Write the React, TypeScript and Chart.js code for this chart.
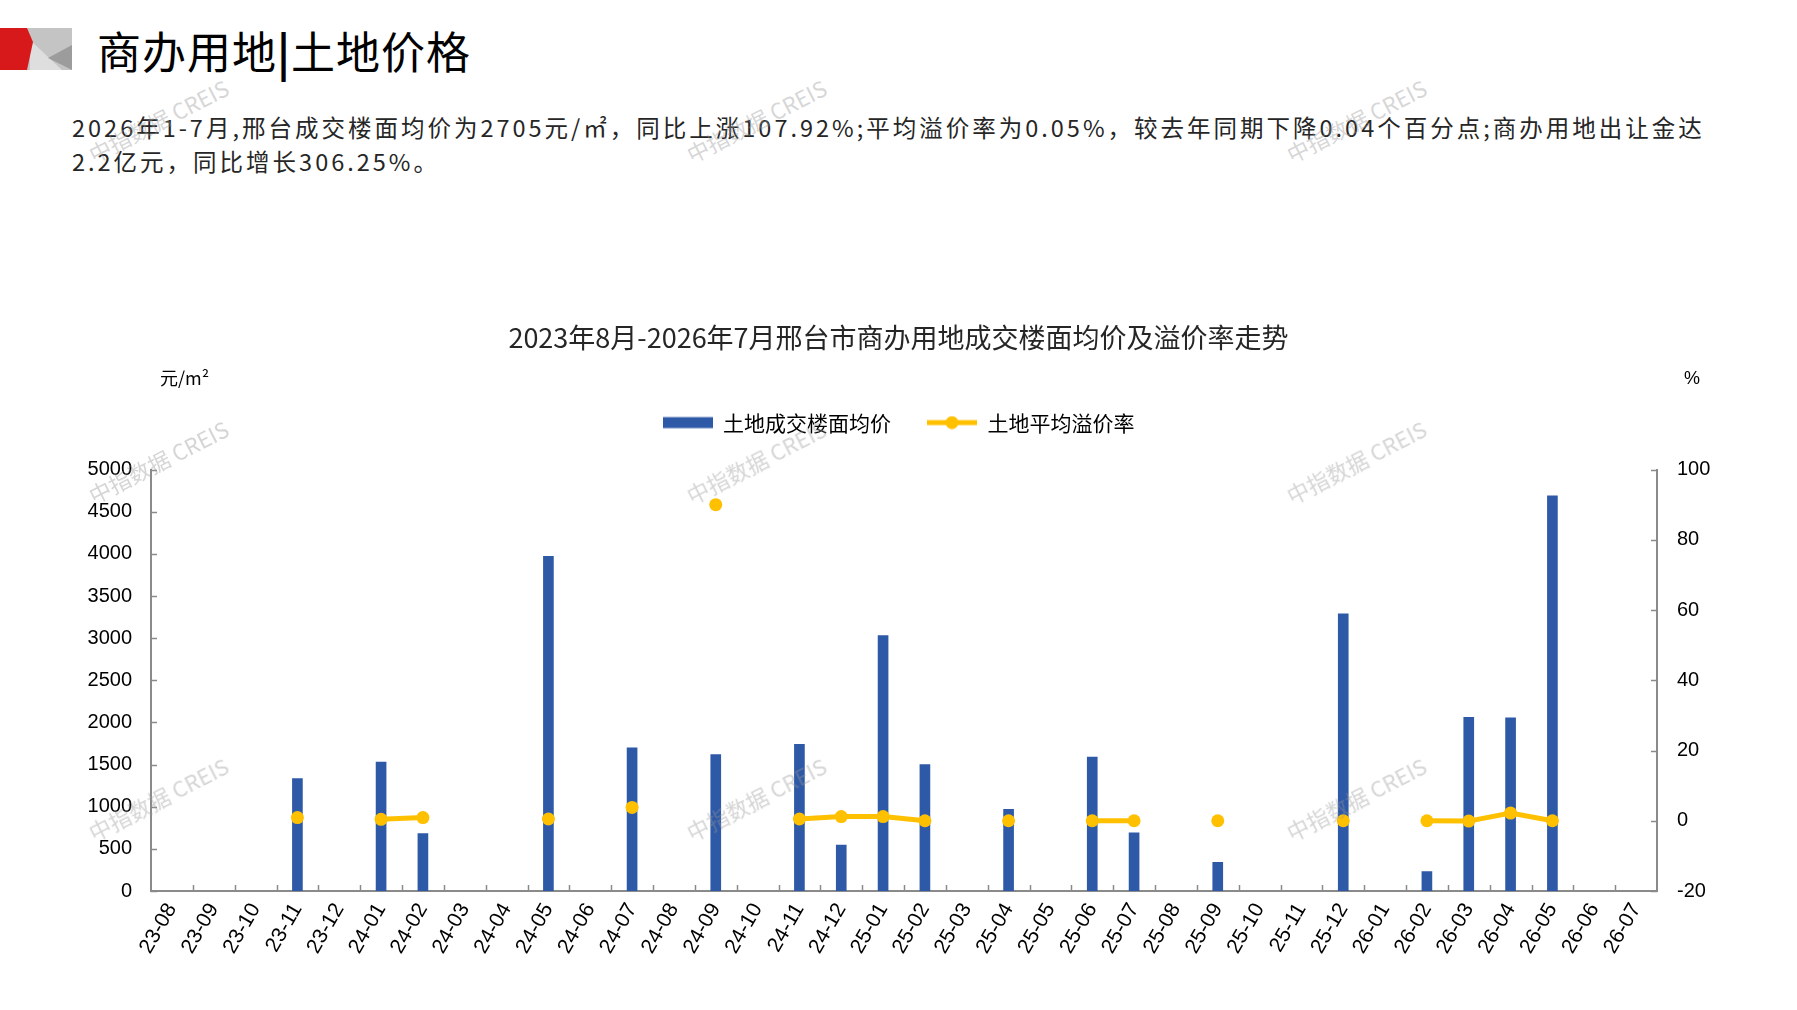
import React, { useEffect, useRef } from 'react';
import Chart from 'chart.js/auto';

// 月份（横轴）
const months = [
  '23-08', '23-09', '23-10', '23-11', '23-12',
  '24-01', '24-02', '24-03', '24-04', '24-05', '24-06', '24-07', '24-08', '24-09', '24-10', '24-11', '24-12',
  '25-01', '25-02', '25-03', '25-04', '25-05', '25-06', '25-07', '25-08', '25-09', '25-10', '25-11', '25-12',
  '26-01', '26-02', '26-03', '26-04', '26-05', '26-06', '26-07',
];

// 土地成交楼面均价（元/㎡），无成交为 null
const landPrice: (number | null)[] = [
  null, null, null, 1335, null,
  1530, 680, null, null, 3970, null, 1700, null, 1620, null, 1740, 545,
  3030, 1500, null, 970, null, 1590, 690, null, 340, null, null, 3290,
  null, 230, 2060, 2055, 4690, null, null,
];

// 土地平均溢价率（%）
const premiumRate: (number | null)[] = [
  null, null, null, 0.9, null,
  0.4, 0.9, null, null, 0.5, null, 3.8, null, 90, null, 0.5, 1.2,
  1.2, 0, null, 0, null, 0, 0, null, 0, null, null, 0,
  null, 0, -0.1, 2.2, 0, null, null,
];

// 坐标轴刻度
const priceTicks = [0, 500, 1000, 1500, 2000, 2500, 3000, 3500, 4000, 4500, 5000];
const rateTicks = [-20, 0, 20, 40, 60, 80, 100];

const BLUE = '#2E59A7';
const GOLD = '#FFC000';
const AXIS = '#8a8a8a';
const FONT_CJK = '"Noto Sans CJK SC", sans-serif';
const FONT_NUM = '"Liberation Sans", Arial, sans-serif';

// Excel-style tick marks pointing into the plot area
const innerTicks = {
  id: 'innerTicks',
  afterDraw(chart: any) {
    const { ctx, chartArea, scales } = chart;
    const len = 6;
    ctx.save();
    ctx.strokeStyle = AXIS;
    ctx.lineWidth = 1.5;
    ctx.beginPath();
    scales.y.ticks.forEach((t: any) => {
      const y = Math.round(scales.y.getPixelForValue(t.value)) + 0.5;
      ctx.moveTo(chartArea.left, y);
      ctx.lineTo(chartArea.left + len, y);
    });
    scales.y1.ticks.forEach((t: any) => {
      const y = Math.round(scales.y1.getPixelForValue(t.value)) + 0.5;
      ctx.moveTo(chartArea.right - len, y);
      ctx.lineTo(chartArea.right, y);
    });
    for (let i = 1; i < months.length; i++) {
      const x = Math.round((scales.x.getPixelForValue(i - 1) + scales.x.getPixelForValue(i)) / 2) + 0.5;
      ctx.moveTo(x, chartArea.bottom);
      ctx.lineTo(x, chartArea.bottom - len);
    }
    ctx.stroke();
    ctx.restore();
  },
};

// extra room between legend and plot
const legendGap = {
  id: 'legendGap',
  beforeInit(chart: any) {
    if (!chart.legend) return;
    const fit = chart.legend.fit;
    chart.legend.fit = function () {
      fit.call(this);
      this.height += 26.5;
    };
  },
};

const makeSwatch = (kind: 'bar' | 'line') => {
  const c = document.createElement('canvas');
  c.width = 50;
  c.height = 14;
  const g = c.getContext('2d');
  if (!g) return c;
  if (kind === 'bar') {
    g.fillStyle = BLUE;
    g.fillRect(0, 1.5, 50, 11);
  } else {
    g.strokeStyle = GOLD;
    g.lineWidth = 5;
    g.beginPath();
    g.moveTo(0, 7);
    g.lineTo(50, 7);
    g.stroke();
    g.fillStyle = GOLD;
    g.beginPath();
    g.arc(25, 7, 6.5, 0, Math.PI * 2);
    g.fill();
  }
  return c;
};

const watermarks = [
  [158, 120], [756, 120], [1356, 120],
  [158, 461], [756, 461], [1356, 461],
  [158, 798], [756, 798], [1356, 798],
];

const App: React.FC = () => {
  const canvasRef = useRef<HTMLCanvasElement>(null);

  useEffect(() => {
    if (!canvasRef.current) return;
    const ctx = canvasRef.current.getContext('2d');
    if (!ctx) return;

    const barSwatch = makeSwatch('bar');
    const lineSwatch = makeSwatch('line');

    const chart = new Chart(ctx, {
      type: 'bar',
      data: {
        labels: months,
        datasets: [
          {
            type: 'bar',
            label: '土地成交楼面均价',
            data: landPrice,
            backgroundColor: BLUE,
            barThickness: 10,
            yAxisID: 'y',
            order: 2,
          },
          {
            type: 'line',
            label: '土地平均溢价率',
            data: premiumRate,
            borderColor: GOLD,
            backgroundColor: GOLD,
            borderWidth: 5,
            pointRadius: 6.5,
            pointBorderWidth: 0,
            pointBackgroundColor: GOLD,
            tension: 0,
            spanGaps: false,
            yAxisID: 'y1',
            order: 1,
          },
        ] as any,
      },
      options: {
        responsive: false,
        animation: false,
        layout: { padding: 0 },
        plugins: {
          title: {
            display: true,
            text: '2023年8月-2026年7月邢台市商办用地成交楼面均价及溢价率走势',
            color: '#262626',
            font: { family: FONT_CJK, size: 27, weight: 'normal' },
            padding: { top: 31.8, bottom: 21.9 },
          },
          legend: {
            position: 'top',
            labels: {
              usePointStyle: true,
              pointStyleWidth: 50,
              padding: 36,
              color: '#000',
              font: { family: FONT_CJK, size: 21 },
              generateLabels: () => [
                { text: '土地成交楼面均价', pointStyle: barSwatch, fillStyle: BLUE, strokeStyle: BLUE, lineWidth: 0, hidden: false, datasetIndex: 0 },
                { text: '土地平均溢价率', pointStyle: lineSwatch, fillStyle: GOLD, strokeStyle: GOLD, lineWidth: 0, hidden: false, datasetIndex: 1 },
              ] as any,
            },
          },
          tooltip: { enabled: false },
        },
        scales: {
          x: {
            grid: { display: false, drawTicks: false },
            border: { color: AXIS, width: 2 },
            ticks: {
              autoSkip: false,
              minRotation: 60,
              maxRotation: 60,
              padding: 8,
              color: '#000',
              font: { family: FONT_NUM, size: 21 },
            },
            afterFit: (s: any) => { s.height = 119; },
          },
          y: {
            position: 'left',
            min: priceTicks[0],
            max: priceTicks[priceTicks.length - 1],
            grid: { display: false, drawTicks: false },
            border: { color: AXIS, width: 2 },
            ticks: {
              stepSize: priceTicks[1] - priceTicks[0],
              padding: 19,
              color: '#000',
              font: { family: FONT_NUM, size: 20 },
              callback: (v: any) => String(v),
            },
            afterFit: (s: any) => { s.width = 151; },
          },
          y1: {
            position: 'right',
            min: rateTicks[0],
            max: rateTicks[rateTicks.length - 1],
            grid: { display: false, drawTicks: false },
            border: { color: AXIS, width: 2 },
            ticks: {
              stepSize: rateTicks[1] - rateTicks[0],
              padding: 20,
              color: '#000',
              font: { family: FONT_NUM, size: 20 },
              callback: (v: any) => String(v),
            },
            afterFit: (s: any) => { s.width = 140; },
          },
        },
      } as any,
      plugins: [innerTicks, legendGap],
    });

    return () => chart.destroy();
  }, []);

  return (
    <div
      style={{
        position: 'absolute',
        left: 0,
        top: 0,
        width: 1797,
        height: 1010,
        overflow: 'hidden',
        background: '#fff',
        fontFamily: FONT_CJK,
      }}
    >
      <svg width={80} height={80} style={{ position: 'absolute', left: 0, top: 0 }}>
        <rect x={24} y={28} width={48} height={42} fill="#c4c4c4" />
        <polygon points="30,40 30,70 62,70" fill="#dedede" />
        <polygon points="72,45 72,70 48,58" fill="#9c9c9c" />
        <polygon points="0,28 27,28 33,42 27,70 0,70" fill="#d7191c" />
      </svg>
      <div style={{ position: 'absolute', left: 97, top: 27, fontSize: 44, lineHeight: '46px', letterSpacing: 1, color: '#000', whiteSpace: 'nowrap' }}>
        商办用地<span style={{ fontWeight: 'bold' }}>|</span>土地价格
      </div>
      <div style={{ position: 'absolute', left: 72, top: 110, fontSize: 23.5, lineHeight: '34px', letterSpacing: 3, color: '#262626', whiteSpace: 'nowrap' }}>
        2026年1-7月,邢台成交楼面均价为2705元/㎡，同比上涨107.92%;平均溢价率为0.05%，较去年同期下降0.04个百分点;商办用地出让金达
        <br />
        2.2亿元，同比增长306.25%。
      </div>
      <canvas
        ref={canvasRef}
        width={1797}
        height={720}
        style={{ position: 'absolute', left: 0, top: 290, width: 1797, height: 720 }}
      />
      <div style={{ position: 'absolute', left: 160, top: 365, fontSize: 18, lineHeight: '24px', color: '#000' }}>元/m²</div>
      <div style={{ position: 'absolute', left: 1684, top: 366, fontSize: 18, lineHeight: '24px', color: '#000', fontFamily: FONT_NUM }}>%</div>
      {watermarks.map(([cx, cy], i) => (
        <div
          key={i}
          style={{
            position: 'absolute',
            left: cx - 100,
            top: cy - 15,
            width: 200,
            textAlign: 'center',
            fontSize: 22,
            lineHeight: '30px',
            color: 'rgba(150,150,150,0.4)',
            transform: 'rotate(-27deg)',
            whiteSpace: 'nowrap',
            pointerEvents: 'none',
          }}
        >
          中指数据 CREIS
        </div>
      ))}
    </div>
  );
};

export default App;
